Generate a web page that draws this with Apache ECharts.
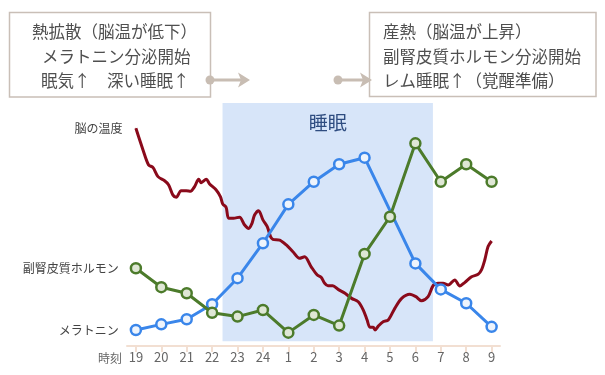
<!DOCTYPE html>
<html><head><meta charset="utf-8">
<script src="https://cdn.jsdelivr.net/npm/echarts@6/dist/echarts.min.js"></script>
<style>html,body{margin:0;padding:0;background:#fff}#c{width:605px;height:375px}</style>
</head><body><div id="c"></div>
<script>
// ---- data ----
const hours = ['19','20','21','22','23','24','1','2','3','4','5','6','7','8','9'];
const melatonin = [6.6, 8.9, 11.0, 17.2, 27.9, 42.3, 58.3, 67.6, 74.8, 77.5, null, 34.0, 23.3, 17.6, 7.9];
const cortisol  = [32.0, 24.2, 21.7, 13.7, 12.1, 14.8, 5.5, 12.8, 8.4, 37.9, 53.2, 83.4, 67.6, 74.8, 67.6];
// brain temperature: position in hour steps from 19:00, value
const tempPos = [0, 0.28, 0.50, 0.67, 0.87, 1.13, 1.29, 1.46, 1.59, 1.78, 1.98, 2.15, 2.31, 2.47, 2.57, 2.77, 2.90,
  3.16, 3.33, 3.42, 3.55, 3.65, 3.84, 4.08, 4.28, 4.44, 4.57, 4.67, 4.83, 5.00, 5.17, 5.30, 5.39, 5.66, 5.92,
  6.18, 6.44, 6.64, 6.90, 7.14, 7.29, 7.43, 7.56, 7.75, 7.96, 8.23, 8.49, 8.75, 8.95, 9.10, 9.21, 9.34, 9.41,
  9.54, 9.73, 9.93, 10.19, 10.46, 10.78, 11.02, 11.24, 11.50, 11.70, 11.90, 12.09, 12.29, 12.55, 12.75, 12.95,
  13.21, 13.47, 13.60, 13.73, 13.86, 14.0];
const tempValue = [89.6, 80.7, 74.5, 73.5, 69.7, 68.0, 66.3, 62.1, 61.2, 63.9, 63.9, 63.7, 65.6, 68.6, 67.2, 68.6, 66.7,
  64.2, 61.4, 58.4, 57.1, 52.6, 52.6, 53.0, 49.8, 48.4, 50.5, 53.9, 55.7, 51.9, 49.1, 45.0, 43.9, 43.6, 41.6,
  38.8, 36.1, 36.7, 32.6, 29.2, 28.3, 25.8, 24.8, 24.8, 23.3, 21.7, 19.6, 18.2, 14.8, 10.7, 7.7, 7.7, 6.6,
  8.2, 10.0, 10.7, 15.5, 19.6, 21.3, 20.3, 18.6, 20.3, 24.9, 25.8, 25.8, 25.1, 27.2, 24.7, 26.2,
  28.5, 29.5, 31.3, 35.4, 40.9, 43.2];
const seriesNames = ['脳の温度', 'メラトニン', '副腎皮質ホルモン'];
const sleepLabel = '睡眠';
const sleepRange = [3.41, 11.69];
const axisName = '時刻';
const leftBoxLines = ['熱拡散（脳温が低下）', 'メラトニン分泌開始', '眠気↑　深い睡眠↑'];
const rightBoxLines = ['産熱（脳温が上昇）', '副腎皮質ホルモン分泌開始', 'レム睡眠↑（覚醒準備）'];

// ---- chart ----
const FONT = '"Noto Sans CJK JP", "Noto Sans", sans-serif';
const ticks = hours.map((h, i) => i);
const firstLabel = (name, dist) => ({show: true, position: 'left', distance: dist, formatter: name,
  color: '#444', fontSize: 12, fontFamily: FONT});

const tempData = tempPos.map((x, i) => i === 0
  ? {value: [x, tempValue[i]], symbol: 'circle', symbolSize: 1, label: firstLabel(seriesNames[0], 13)}
  : [x, tempValue[i]]);
const pts = (arr, name) => arr.map((v, i) => i === 0
  ? {value: [i, v], label: firstLabel(name, 11)}
  : [i, v]);

const arrowColor = '#c8bdb3';
const textStyle = (t, x, y) => ({type: 'text', x: x, y: y, style: {text: t, font: '16.5px ' + FONT, fill: '#4f4f4f', textVerticalAlign: 'middle'}});

const chart = echarts.init(document.getElementById('c'), null, {renderer: 'canvas'});
chart.setOption({
  animation: false,
  textStyle: {fontFamily: FONT},
  grid: {left: 127, right: 105, top: 103, bottom: 29, containLabel: false},
  xAxis: {
    type: 'value', min: -0.35, max: 14.33,
    name: axisName, nameLocation: 'start', nameGap: 5,
    nameTextStyle: {color: '#666', fontSize: 12, fontFamily: FONT, verticalAlign: 'top', padding: [6, 0, 0, 0]},
    axisLine: {show: true, lineStyle: {color: '#f2dfd2', width: 2}},
    axisTick: {show: true, customValues: ticks, length: 6, lineStyle: {color: '#f2dfd2', width: 2}},
    axisLabel: {customValues: ticks, formatter: v => hours[Math.round(v)], color: '#666', fontSize: 13, margin: 5, fontFamily: FONT},
    splitLine: {show: false}
  },
  yAxis: {type: 'value', min: 0, max: 100, show: false, splitLine: {show: false}},
  series: [
    {
      name: seriesNames[0], type: 'line', data: tempData, smooth: 0.3, symbol: 'none',
      lineStyle: {color: '#8a0a1b', width: 3}, itemStyle: {color: '#8a0a1b'}, z: 2,
      markArea: {
        silent: true,
        itemStyle: {color: '#d7e5f9'},
        label: {show: true, position: 'insideTop', distance: 10, fontSize: 19, color: '#2e4c80', fontFamily: FONT},
        data: [[{xAxis: sleepRange[0], yAxis: 2, name: sleepLabel}, {xAxis: sleepRange[1], yAxis: 100}]]
      }
    },
    {
      name: seriesNames[1], type: 'line', data: pts(melatonin, seriesNames[1]), connectNulls: true,
      symbol: 'circle', symbolSize: 10,
      lineStyle: {color: '#3a86ea', width: 3},
      itemStyle: {color: '#eef4fc', borderColor: '#3a86ea', borderWidth: 2.5}, z: 3
    },
    {
      name: seriesNames[2], type: 'line', data: pts(cortisol, seriesNames[2]),
      symbol: 'circle', symbolSize: 10,
      lineStyle: {color: '#4c7b2b', width: 3},
      itemStyle: {color: '#dfe7d5', borderColor: '#4c7b2b', borderWidth: 2.5}, z: 4
    }
  ],
  graphic: [
    {type: 'rect', shape: {x: 9.5, y: 12.5, width: 201, height: 84.5}, style: {fill: '#fff', stroke: '#c9bfb7', lineWidth: 1.5}},
    textStyle(leftBoxLines[0], 32, 32),
    textStyle(leftBoxLines[1], 42, 57),
    textStyle(leftBoxLines[2], 41, 81),
    {type: 'rect', shape: {x: 369.5, y: 12.5, width: 226.5, height: 84}, style: {fill: '#fff', stroke: '#c9bfb7', lineWidth: 1.5}},
    textStyle(rightBoxLines[0], 383, 32),
    textStyle(rightBoxLines[1], 383, 57),
    textStyle(rightBoxLines[2], 383, 81),
    {type: 'line', shape: {x1: 210, y1: 80, x2: 243, y2: 80}, style: {stroke: arrowColor, lineWidth: 3}},
    {type: 'circle', shape: {cx: 210, cy: 80, r: 4.5}, style: {fill: arrowColor}},
    {type: 'polygon', shape: {points: [[238, 72.5], [250, 80], [238, 87.5], [241, 80]]}, style: {fill: arrowColor}},
    {type: 'line', shape: {x1: 338, y1: 80, x2: 365, y2: 80}, style: {stroke: arrowColor, lineWidth: 3}},
    {type: 'circle', shape: {cx: 338, cy: 80, r: 4.5}, style: {fill: arrowColor}},
    {type: 'polygon', shape: {points: [[360, 72.5], [372, 80], [360, 87.5], [363, 80]]}, style: {fill: arrowColor}}
  ]
});
</script></body></html>
